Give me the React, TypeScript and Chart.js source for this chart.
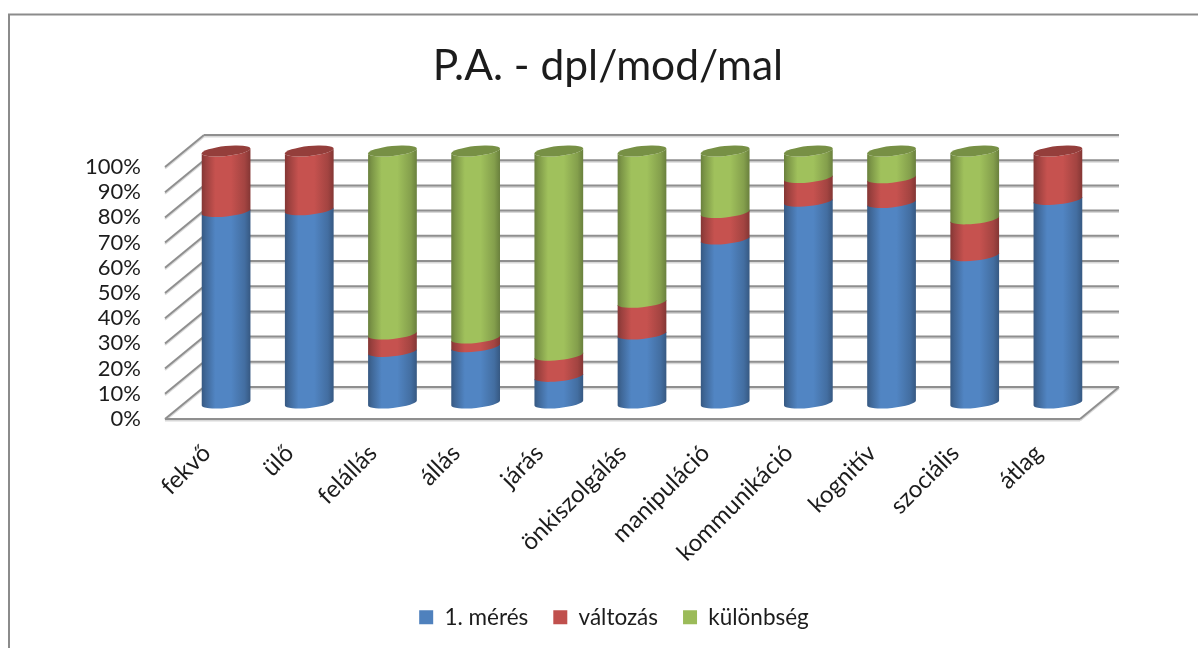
import React, { useEffect, useRef } from "react";
import { Chart, BarController, BarElement, registerables } from "chart.js";

const categories = ["fekvő", "ülő", "felállás", "állás", "járás", "önkiszolgálás", "manipuláció", "kommunikáció", "kognitív", "szociális", "átlag"];
const meres = [76, 76.7, 20.5, 22.4, 10.6, 27.4, 65.1, 80.1, 79.6, 58.5, 80.8];
const valtozas = [24, 23.3, 6.9, 3.4, 8.4, 12.6, 10.5, 9.4, 9.8, 14.6, 19.2];
const kulonbseg = [null, null, 72.6, 74.2, 81, 60, 24.4, 10.5, 10.6, 26.9, null];
const seriesNames = ["1. mérés", "változás", "különbség"];
const seriesColors = ["#4f81bd", "#c0504d", "#9bbb59"];

const DEPTH_X = 39;
const DEPTH_Y = -32;
const RY = 5;
const TILT = (-6 * Math.PI) / 180;
const FONT = "Lato, Carlito, sans-serif";
const TEXT = "#1c1c1c";

let plotTop = 0;
let plotBottom = 0;

function shade(hex: string, f: number) {
  const n = parseInt(hex.slice(1), 16);
  const c = (v: number) => Math.max(0, Math.min(255, Math.round(v * f)));
  return `rgb(${c((n >> 16) & 255)},${c((n >> 8) & 255)},${c(n & 255)})`;
}

class CylinderBar extends BarElement {
  static id = "cylinderBar";
  draw(ctx: CanvasRenderingContext2D) {
    const self = this as any;
    const color: string = self.options.backgroundColor;
    const cx = self.x + DEPTH_X / 2;
    const yTop = self.y + DEPTH_Y / 2;
    const onFloor = self.base >= plotBottom - 1;
    const yBase = self.base + DEPTH_Y / 2 + (onFloor ? 0 : 1);
    const rx = self.width / 2;
    const grad = ctx.createLinearGradient(cx - rx, 0, cx + rx, 0);
    [[0, 0.68], [0.08, 0.8], [0.28, 1.03], [0.6, 1.03], [0.88, 0.85], [1, 0.68]].forEach(([p, f]) =>
      grad.addColorStop(p, shade(color, f))
    );
    ctx.save();
    ctx.fillStyle = grad;
    ctx.beginPath();
    ctx.ellipse(cx, yTop, rx, RY, TILT, Math.PI, 0, true);
    ctx.ellipse(cx, yBase, rx, RY, TILT, 0, Math.PI);
    ctx.closePath();
    ctx.fill();
    if (self.y <= plotTop + 1) {
      ctx.fillStyle = shade(color, 0.77);
      ctx.beginPath();
      ctx.ellipse(cx, yTop, rx, RY, TILT, 0, Math.PI * 2);
      ctx.fill();
    }
    ctx.restore();
  }
}

class CylinderController extends BarController {
  static id = "cylinderChart";
  static defaults = { dataElementType: "cylinderBar" };
  draw() {
    plotTop = (this as any).chart.chartArea.top;
    plotBottom = (this as any).chart.chartArea.bottom;
    super.draw();
  }
}

Chart.register(...registerables, CylinderBar, CylinderController);

function seg(ctx: CanvasRenderingContext2D, a: number, b: number, c: number, d: number) {
  ctx.beginPath();
  ctx.moveTo(a, b);
  ctx.lineTo(c, d);
  ctx.stroke();
}

const framePlugin = {
  id: "frame",
  beforeDraw(chart: any) {
    const { ctx, width, height } = chart;
    ctx.save();
    ctx.fillStyle = "#ffffff";
    ctx.fillRect(0, 0, width, height);
    ctx.strokeStyle = "#8b8b8b";
    ctx.lineWidth = 2;
    ctx.beginPath();
    ctx.moveTo(9, height);
    ctx.lineTo(9, 14.5);
    ctx.lineTo(width, 14.5);
    ctx.stroke();
    ctx.restore();
  },
};

const wallPlugin = {
  id: "wall",
  beforeDatasetsDraw(chart: any) {
    const { ctx, chartArea, scales } = chart;
    const { left, right, bottom } = chartArea;
    const pass = (color: string, w: number, off: number) => {
      ctx.strokeStyle = color;
      ctx.lineWidth = w;
      scales.y.ticks.forEach((t: any) => {
        const y = scales.y.getPixelForValue(t.value);
        seg(ctx, left, y + off, left + DEPTH_X, y + DEPTH_Y + off);
        seg(ctx, left + DEPTH_X, y + DEPTH_Y + off, right + DEPTH_X, y + DEPTH_Y + off);
      });
      seg(ctx, left, bottom + off, right, bottom + off);
      seg(ctx, right, bottom + off, right + DEPTH_X, bottom + DEPTH_Y + off);
    };
    ctx.save();
    pass("#d8d8d8", 2, 1.5);
    pass("#8f8f8f", 2, 0);
    ctx.restore();
  },
};

const legendShift = {
  id: "legendShift",
  afterLayout(chart: any) {
    chart.legend.left += 6;
    chart.legend.right += 6;
  },
};

export default function App() {
  const ref = useRef<HTMLCanvasElement>(null);
  useEffect(() => {
    const chart = new Chart(ref.current as HTMLCanvasElement, {
      type: "cylinderChart" as any,
      data: {
        labels: categories,
        datasets: [meres, valtozas, kulonbseg].map((data, i) => ({
          label: seriesNames[i],
          data,
          backgroundColor: seriesColors[i],
          borderWidth: 0,
          categoryPercentage: 1,
          barPercentage: 0.589,
          clip: false,
        })) as any,
      },
      plugins: [framePlugin, wallPlugin, legendShift],
      options: {
        responsive: false,
        animation: false,
        devicePixelRatio: 1,
        layout: { padding: { left: 18, right: 0, top: 0, bottom: 9.5 } },
        plugins: {
          tooltip: { enabled: false },
          title: {
            display: true,
            text: "P.A. - dpl/mod/mal",
            color: TEXT,
            font: { family: FONT, size: 42.5, weight: "normal", lineHeight: 1.2 },
            padding: { top: 41, bottom: 75 },
          },
          legend: {
            position: "bottom",
            labels: {
              color: TEXT,
              font: { family: FONT, size: 22.5 },
              boxWidth: 14,
              boxHeight: 14,
              padding: 25,
            },
          },
        },
        scales: {
          x: {
            stacked: true,
            grid: { display: false },
            border: { display: false },
            afterFit(s: any) {
              s.height = 162;
            },
            ticks: {
              color: TEXT,
              font: { family: FONT, size: 24 },
              autoSkip: false,
              minRotation: 45,
              maxRotation: 45,
              padding: 12,
            },
          },
          y: {
            stacked: true,
            min: 0,
            max: 100,
            grid: { display: false, drawTicks: false },
            border: { display: false },
            afterFit(s: any) {
              s.width = 147;
            },
            ticks: {
              stepSize: 10,
              autoSkip: false,
              color: TEXT,
              font: { family: FONT, size: 22 },
              padding: 24,
              callback: (v: any) => `${v}%`,
            },
          },
          y2: {
            position: "right",
            display: true,
            grid: { display: false, drawTicks: false },
            border: { display: false },
            ticks: { display: false },
            afterFit(s: any) {
              s.width = 118;
            },
          },
        },
      } as any,
    });
    return () => chart.destroy();
  }, []);
  return (
    <div style={{ position: "fixed", left: 0, top: 0, width: 1198, height: 648, overflow: "hidden" }}>
      <canvas ref={ref} width={1198} height={648} style={{ display: "block" }} />
    </div>
  );
}
